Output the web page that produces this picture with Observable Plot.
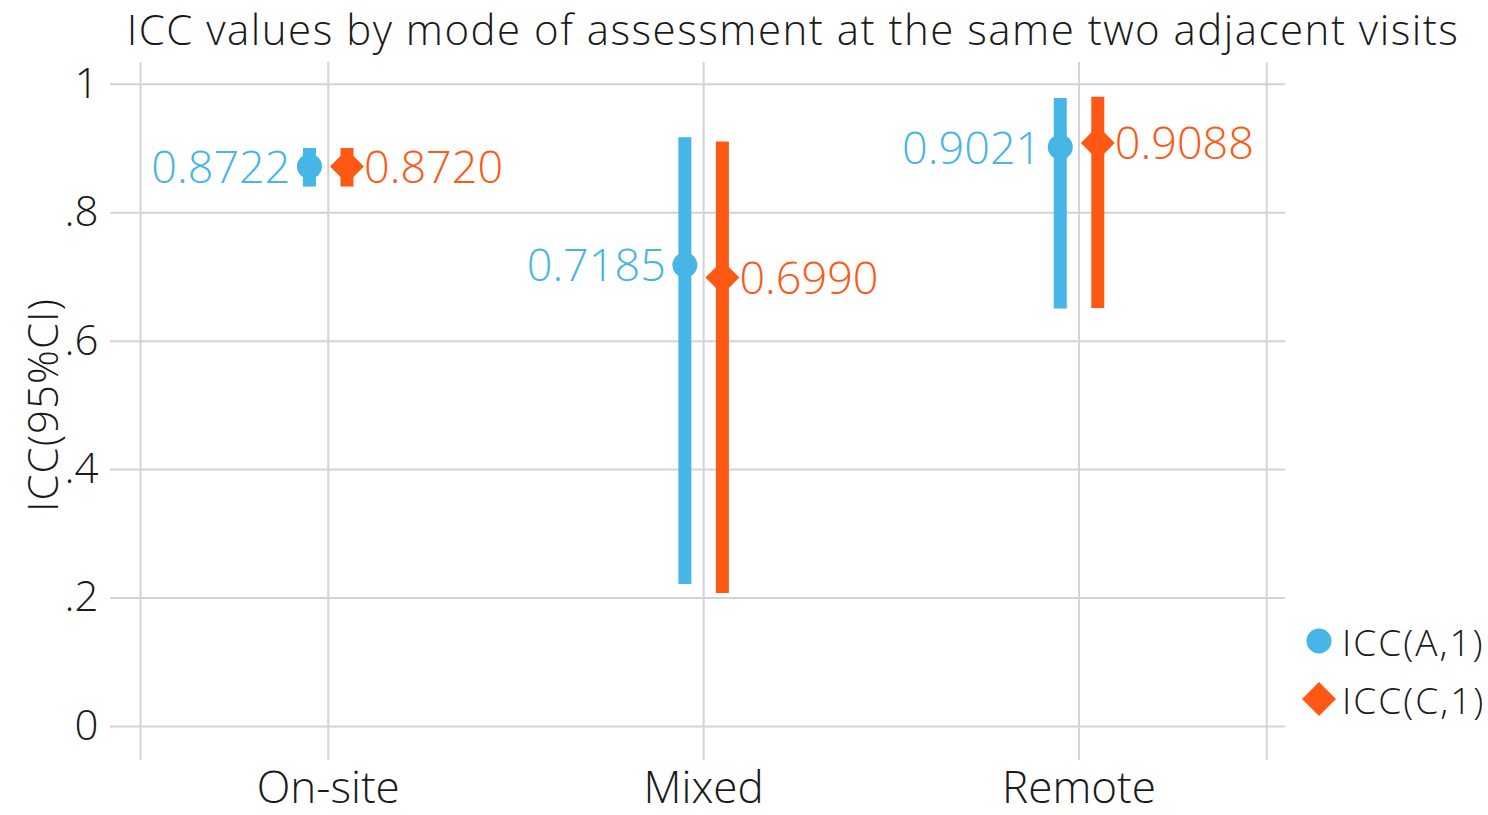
<!DOCTYPE html>
<html><head><meta charset="utf-8">
<script src="https://cdn.jsdelivr.net/npm/d3@7"></script>
<script src="https://cdn.jsdelivr.net/npm/@observablehq/plot@0.6"></script>
<style>
html,body{margin:0;padding:0;background:#fff;}
#wrap{position:relative;width:1488px;height:815px;overflow:hidden;font-family:"Open Sans",sans-serif;font-weight:300;color:#1a1a1a;}
#title{position:absolute;left:0;top:0px;width:1586px;text-align:center;font-size:42px;letter-spacing:1.5px;white-space:nowrap;line-height:58px;}
#ylabel{position:absolute;left:42px;top:405px;transform:translate(-50%,-50%) rotate(-90deg);font-size:42px;letter-spacing:1px;white-space:nowrap;line-height:48px;}
#legend{position:absolute;left:1300px;top:612px;font-size:37px;letter-spacing:2px;}
.li{display:flex;align-items:center;height:58px;}
.li svg{margin-right:4px;}
#chart{position:absolute;left:0;top:0;}
</style></head>
<body><div id="wrap"><div id="chart"></div><div id="title"></div><div id="ylabel"></div><div id="legend"></div></div>
<script>
const titleText = "ICC values by mode of assessment at the same two adjacent visits";
const yLabel = "ICC(95%CI)";
const modes = ["On-site", "Mixed", "Remote"];
const seriesNames = ["ICC(A,1)", "ICC(C,1)"];
const seriesColors = ["#45b6e5", "#fe5814"];
const iccA = [0.8722, 0.7185, 0.9021];
const lowA = [0.840, 0.221, 0.650];
const highA = [0.900, 0.917, 0.978];
const iccC = [0.8720, 0.6990, 0.9088];
const lowC = [0.840, 0.207, 0.651];
const highC = [0.900, 0.910, 0.980];
const yTicks = [0, 0.2, 0.4, 0.6, 0.8, 1];
const yTickLabels = ["0", ".2", ".4", ".6", ".8", "1"];

const dodge = 0.05;
const rows = [];
modes.forEach((m, i) => {
  rows.push({mode: m, series: seriesNames[0], x: i + 1 - dodge, icc: iccA[i], low: lowA[i], high: highA[i]});
  rows.push({mode: m, series: seriesNames[1], x: i + 1 + dodge, icc: iccC[i], low: lowC[i], high: highC[i]});
});
const colorOf = s => seriesColors[seriesNames.indexOf(s)];
const gridXTicks = [0.5, 1, 2, 3, 3.5];
const gridStyle = {stroke: "#d3d3d3", strokeOpacity: 1, strokeWidth: 2};
const fmt = d3.format(".4f");

const chart = Plot.plot({
  width: 1488, height: 815,
  marginLeft: 110, marginRight: 203, marginTop: 62, marginBottom: 55,
  style: {fontFamily: "'Open Sans', sans-serif", fontWeight: 300, color: "#1a1a1a", background: "transparent"},
  x: {domain: [0.42, 3.55], axis: null},
  y: {domain: [-0.053, 1.034], axis: null},
  marks: [
    Plot.gridX(gridXTicks, gridStyle),
    Plot.gridY(yTicks, gridStyle),
    Plot.axisX([1, 2, 3], {tickSize: 0, tickPadding: 11, fontSize: 44, tickFormat: d => modes[d - 1], label: null}),
    Plot.axisY(yTicks, {tickSize: 0, tickPadding: 12, fontSize: 42, tickFormat: d => yTickLabels[yTicks.indexOf(d)], label: null}),
    Plot.ruleX(rows, {x: "x", y1: "low", y2: "high", stroke: d => colorOf(d.series), strokeWidth: 13}),
    Plot.dot(rows.filter(d => d.series === seriesNames[0]), {x: "x", y: "icc", r: 12.5, symbol: "circle", fill: d => colorOf(d.series), stroke: "none"}),
    Plot.dot(rows.filter(d => d.series === seriesNames[1]), {x: "x", y: "icc", r: 15.3, symbol: "diamond2", fill: d => colorOf(d.series), stroke: "none"}),
    Plot.text(rows.filter(d => d.series === seriesNames[0]), {x: "x", y: "icc", text: d => fmt(d.icc), dx: -19, dy: 2, textAnchor: "end", fill: d => colorOf(d.series), fontSize: 45}),
    Plot.text(rows.filter(d => d.series === seriesNames[1]), {x: "x", y: "icc", text: d => fmt(d.icc), dx: 17, dy: 2, textAnchor: "start", fill: d => colorOf(d.series), fontSize: 45})
  ]
});
document.getElementById("chart").appendChild(chart);
document.getElementById("title").textContent = titleText;
document.getElementById("ylabel").textContent = yLabel;

const legend = document.getElementById("legend");
seriesNames.forEach((s, i) => {
  const div = document.createElement("div");
  div.className = "li";
  const sym = i === 0
    ? `<svg width="38" height="38"><circle cx="19" cy="19" r="12.5" fill="${seriesColors[i]}"/></svg>`
    : `<svg width="38" height="38"><path d="M19 2L36 19L19 36L2 19Z" fill="${seriesColors[i]}"/></svg>`;
  div.innerHTML = sym + `<span>${s}</span>`;
  legend.appendChild(div);
});
</script></body></html>
